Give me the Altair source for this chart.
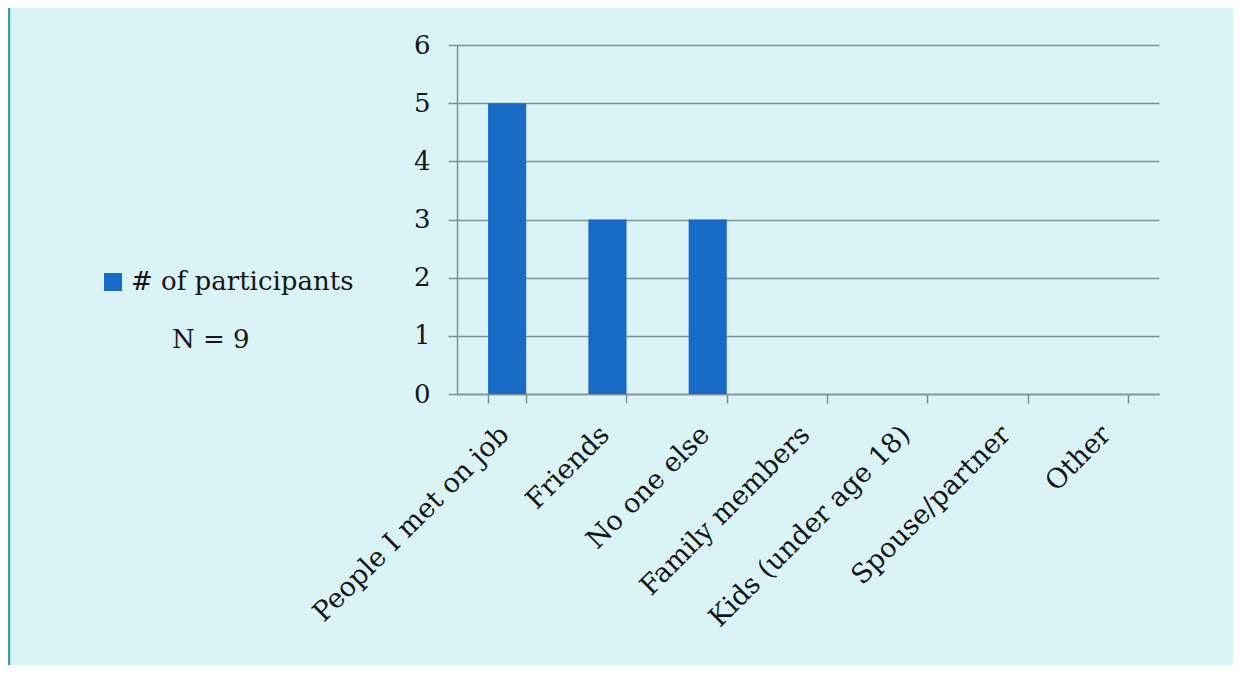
import altair as alt
import pandas as pd

categories = ["People I met on job", "Friends", "No one else", "Family members",
              "Kids (under age 18)", "Spouse/partner", "Other"]
values = [5, 3, 3, 0, 0, 0, 0]
series_name = "# of participants"
n_label = ["N = 9"]
y_ticks = [0, 1, 2, 3, 4, 5, 6]

FONT = "DejaVu Serif"
BAR = "#176AC6"
GRID = "#7F9293"
BG = "#DAF3F7"

df = pd.DataFrame({"category": categories, "value": values, "series": [series_name] * len(categories)})

bars = alt.Chart(df).mark_bar().encode(
    x=alt.X("category:N", sort=categories,
            scale=alt.Scale(paddingInner=0.62, paddingOuter=0.31),
            axis=alt.Axis(title=None, labelAngle=-45, tickBand="extent", tickSize=9,
                          labelPadding=18, labelOffset=-12, grid=False, labelFontSize=27,
                          labelFont=FONT, labelColor="#151515", domainColor=GRID,
                          tickColor=GRID, domainWidth=1.5, tickWidth=1.5, labelLimit=0)),
    y=alt.Y("value:Q", scale=alt.Scale(domain=[0, 6], nice=False),
            axis=alt.Axis(title=None, values=y_ticks, tickSize=9, labelPadding=18,
                          grid=True, gridColor=GRID, gridWidth=1.5, labelFontSize=26,
                          labelFont=FONT, labelColor="#151515", domainColor=GRID,
                          tickColor=GRID, domainWidth=1.5, tickWidth=1.5)),
    color=alt.Color("series:N", scale=alt.Scale(domain=[series_name], range=[BAR]),
                    legend=alt.Legend(orient="none", legendX=-357, legendY=224, title=None,
                                      symbolType="square", symbolSize=324, symbolStrokeWidth=0,
                                      labelFontSize=26, labelFont=FONT, labelColor="#151515",
                                      labelOffset=5, padding=0, labelLimit=0)),
)

ntext = alt.Chart(pd.DataFrame({"t": n_label})).mark_text(
    align="left", baseline="middle", font=FONT, fontSize=26, color="#151515"
).encode(x=alt.value(-285), y=alt.value(295), text="t:N")

border = alt.Chart(pd.DataFrame({"t": n_label})).mark_rule(color="#3C9CA0", strokeWidth=2.5).encode(
    x=alt.value(-448), y=alt.value(-37), y2=alt.value(620)
)

chart = alt.layer(bars, ntext, border).properties(
    width=702, height=349,
    autosize=alt.AutoSizeParams(type="none"),
    padding={"left": 449, "top": 37, "right": 74, "bottom": 271},
    background=BG,
).configure_view(stroke=None)

chart.save("out.html", embed_options={"renderer": "svg", "actions": False})
